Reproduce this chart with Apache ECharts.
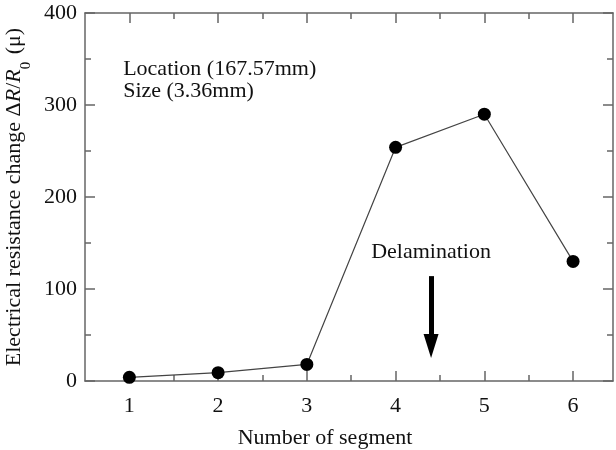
<!DOCTYPE html>
<html><head><meta charset="utf-8">
<script src="https://cdn.jsdelivr.net/npm/echarts@6/dist/echarts.min.js"></script>
<style>html,body{margin:0;padding:0;background:#fff}#c{width:616px;height:450px}</style>
</head><body><div id="c"></div>
<script>
const segments = [1, 2, 3, 4, 5, 6];
const resistanceChange = [4, 9, 18, 254, 290, 130];
const xMajorTicks = [1, 2, 3, 4, 5, 6];
const xMinorTicks = [1.5, 2.5, 3.5, 4.5, 5.5];
const noteText = ['Location (167.57mm)', 'Size (3.36mm)'];
const noteAnchor = [0.93, 327];
const arrowLabel = 'Delamination';
const arrowLabelAnchor = [4.4, 140];
const arrowStart = [4.4, 114];
const arrowEnd = [4.4, 38];

const FONT = '"Liberation Serif", "Times New Roman", serif';
const AXIS_COLOR = '#666';
const XMIN = 0.5, XMAX = 6.45;

function xAxisDef(position, ticks, len, withLabels, withLine) {
  return {
    type: 'value', min: XMIN, max: XMAX, interval: 0.5, position: position,
    axisLine: { show: withLine, lineStyle: { color: AXIS_COLOR, width: 1.5 } },
    axisTick: { show: true, inside: true, length: len, customValues: ticks,
      lineStyle: { color: AXIS_COLOR, width: 1.5 } },
    axisLabel: withLabels ? { show: true, customValues: ticks, margin: 14,
      fontSize: 22, fontFamily: FONT, color: '#111' } : { show: false },
    splitLine: { show: false },
    name: withLabels ? 'Number of segment' : '',
    nameLocation: 'middle', nameGap: 46,
    nameTextStyle: { fontSize: 22, fontFamily: FONT, color: '#111', padding: [0, 48, 0, 0] }
  };
}
function yAxisDef(position, withLabels) {
  return {
    type: 'value', min: 0, max: 400, interval: 100, position: position,
    axisLine: { show: true, lineStyle: { color: AXIS_COLOR, width: 1.5 } },
    axisTick: { show: true, inside: true, length: 10, lineStyle: { color: AXIS_COLOR, width: 1.5 } },
    minorTick: { show: true, splitNumber: 2, length: 6, lineStyle: { color: AXIS_COLOR, width: 1.5 } },
    axisLabel: withLabels ? { show: true, margin: 8, fontSize: 22, fontFamily: FONT, color: '#111' } : { show: false },
    splitLine: { show: false }, minorSplitLine: { show: false },
    name: withLabels ? '{a|Electrical resistance change Δ}{i|R}{a|/}{i|R}{s|0}{a| (μ)}' : '',
    nameLocation: 'middle', nameGap: 56, nameRotate: 90,
    nameTextStyle: {
      color: '#111', fontFamily: FONT, fontSize: 22,
      rich: {
        a: { fontSize: 22, fontFamily: FONT, color: '#111', lineHeight: 26 },
        i: { fontSize: 22, fontFamily: FONT, fontStyle: 'italic', color: '#111', lineHeight: 26 },
        s: { fontSize: 15, fontFamily: FONT, color: '#111', lineHeight: 26, verticalAlign: 'bottom', padding: [0, 2, -6, 0] }
      }
    }
  };
}

const chart = echarts.init(document.getElementById('c'), null, { renderer: 'canvas' });
chart.setOption({
  animation: false,
  backgroundColor: '#fff',
  grid: { left: 85, right: 3, top: 13, bottom: 69, containLabel: false, outerBoundsMode: 'none' },
  xAxis: [
    xAxisDef('bottom', xMajorTicks, 10, true, true),
    xAxisDef('bottom', xMinorTicks, 6, false, false),
    xAxisDef('top', xMajorTicks, 10, false, true),
    xAxisDef('top', xMinorTicks, 6, false, false)
  ],
  yAxis: [yAxisDef('left', true), yAxisDef('right', false)],
  series: [{
    type: 'line',
    xAxisIndex: 0, yAxisIndex: 0,
    data: segments.map((s, i) => [s, resistanceChange[i]]),
    symbol: 'circle', symbolSize: 13,
    itemStyle: { color: '#000' },
    lineStyle: { color: '#444', width: 1.2 },
    markLine: {
      silent: true, animation: false,
      symbol: ['none', 'triangle'], symbolSize: [15, 24],
      lineStyle: { color: '#000', width: 5, type: 'solid' },
      label: { show: false },
      data: [[{ coord: arrowStart }, { coord: arrowEnd }]]
    },
    markPoint: {
      silent: true, animation: false,
      symbol: 'circle', symbolSize: 0,
      data: [
        { coord: noteAnchor, label: { show: true, position: [0, 0], align: 'left', verticalAlign: 'middle',
          formatter: noteText.join('\n'), fontSize: 22, lineHeight: 22, fontFamily: FONT, color: '#111' } },
        { coord: arrowLabelAnchor, label: { show: true, position: [0, 0], align: 'center', verticalAlign: 'middle',
          formatter: arrowLabel, fontSize: 22, fontFamily: FONT, color: '#111' } }
      ]
    }
  }]
});
</script></body></html>
